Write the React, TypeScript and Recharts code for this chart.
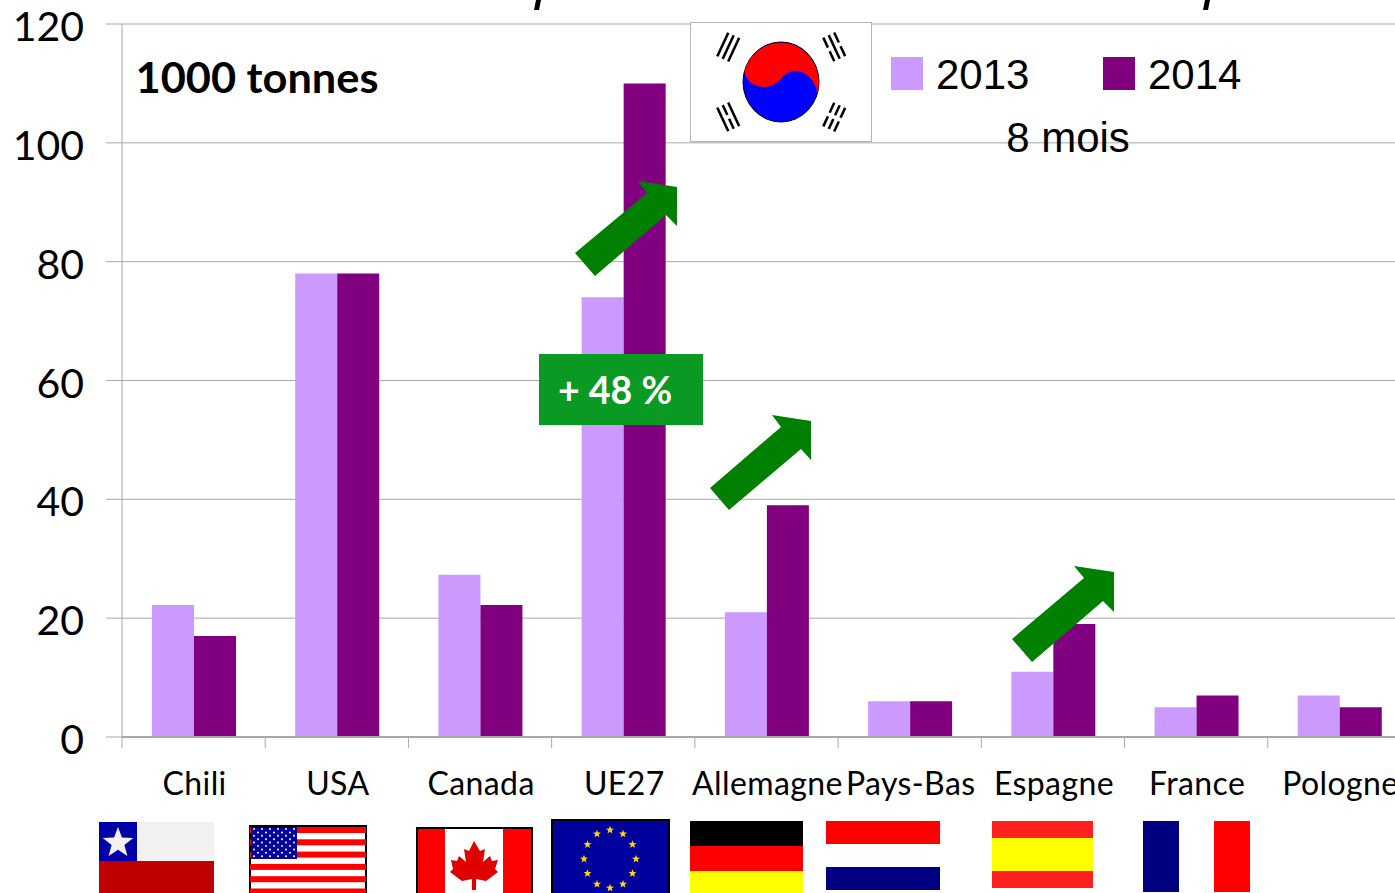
import React from "react";
import {
  Bar,
  BarChart,
  CartesianGrid,
  Legend,
  XAxis,
  YAxis,
} from "recharts";

const categories = [
  "Chili",
  "USA",
  "Canada",
  "UE27",
  "Allemagne",
  "Pays-Bas",
  "Espagne",
  "France",
  "Pologne",
];
const values2013 = [22.2, 78, 27.3, 74, 21, 6, 11, 5, 7];
const values2014 = [17, 78, 22.2, 110, 39, 6, 19, 7, 5];
const yTicks = [0, 20, 40, 60, 80, 100, 120];

const chartData = categories.map((name, i) => ({
  name,
  y2013: values2013[i],
  y2014: values2014[i],
}));

const LIGHT = "#CC99FF";
const DARK = "#800080";
const GRID = "#a8a8a8";
const ARROW = "#008000";
const PLOT_WIDTH = 1289;
const HALF_BAND = PLOT_WIDTH / categories.length / 2;

// tick mark sits on the band edge, label in the band centre
const CategoryTick = ({ x, y, payload }: any) => (
  <g>
    <line x1={x - HALF_BAND} x2={x - HALF_BAND} y1={y} y2={y + 11} stroke={GRID} />
    <text
      x={x + 1}
      y={y + 58}
      textAnchor="middle"
      fontFamily="Lato"
      fontSize={32}
      letterSpacing={0.4}
      fill="#000"
    >
      {payload.value}
    </text>
  </g>
);

const ValueTick = ({ x, y, payload }: any) => (
  <text
    x={x}
    y={y + 17}
    textAnchor="end"
    fontFamily="Lato"
    fontSize={41}
    fill="#000"
  >
    {payload.value}
  </text>
);

const LegendContent = ({ payload }: any) => (
  <div style={{ position: "relative", width: 360, height: 40 }}>
    {(payload || []).map((entry: any, i: number) => (
      <div key={entry.value} style={{ position: "absolute", left: i * 212, top: 0 }}>
        <div
          style={{
            position: "absolute",
            left: 0,
            top: 0,
            width: 32,
            height: 33,
            background: entry.color,
          }}
        />
        <div
          style={{
            position: "absolute",
            left: 45,
            top: -6,
            font: "42px 'Liberation Sans'",
            color: "#000",
          }}
        >
          {entry.value}
        </div>
      </div>
    ))}
  </div>
);

const Star = ({ cx, cy, r, fill }: { cx: number; cy: number; r: number; fill: string }) => {
  const pts = [];
  for (let i = 0; i < 10; i++) {
    const rad = i % 2 === 0 ? r : r * 0.42;
    const a = (Math.PI / 5) * i - Math.PI / 2;
    pts.push(`${cx + rad * Math.cos(a)},${cy + rad * Math.sin(a)}`);
  }
  return <polygon points={pts.join(" ")} fill={fill} />;
};

const Trigram = ({ cx, cy, angle, broken }: { cx: number; cy: number; angle: number; broken: boolean[] }) => (
  <g transform={`translate(${cx} ${cy}) rotate(${angle})`}>
    {broken.map((b, i) => (
      <g key={i}>
        <rect x={-7 + i * 6} y={-13} width={2.5} height={b ? 11 : 26} />
        {b && <rect x={-7 + i * 6} y={2} width={2.5} height={11} />}
      </g>
    ))}
  </g>
);

const KoreaFlag = () => (
  <g>
    <rect x={690.5} y={22.5} width={181} height={119} fill="#fff" stroke="#b5b5b5" />
    <ellipse cx={781} cy={82} rx={38} ry={40} fill="#0000ff" stroke="#000" strokeWidth={1} />
    <path
      d="M744.5 70.9 A38 40 0 0 1 817.5 93.1 C815 80 806 71 795 71 C781 71 781 87 764 87 C754 87 745 80 744.5 70.9Z"
      fill="#ff0000"
    />
    <Trigram cx={728} cy={47} angle={25} broken={[false, false, false]} />
    <Trigram cx={834} cy={47} angle={-25} broken={[true, false, true]} />
    <Trigram cx={728} cy={117} angle={-25} broken={[false, true, false]} />
    <Trigram cx={834} cy={117} angle={25} broken={[true, true, true]} />
  </g>
);

const UsaFlag = () => {
  const stripes = [];
  for (let i = 0; i < 6; i++) {
    stripes.push(<rect key={i} x={250} y={827 + i * 12.3} width={116} height={6} fill="#ff0000" />);
  }
  const dots = [];
  for (let r = 0; r < 9; r++) {
    for (let c = 0; c < (r % 2 === 0 ? 6 : 5); c++) {
      dots.push(
        <circle key={`${r}-${c}`} cx={254 + c * 8 + (r % 2 === 0 ? 0 : 4)} cy={829 + r * 3.4} r={1} fill="#fff" />
      );
    }
  }
  return (
    <g>
      <rect x={250} y={826} width={116} height={70} fill="#fff" stroke="#000" strokeWidth={2} />
      {stripes}
      <rect x={251} y={827} width={46} height={32} fill="#00009c" />
      {dots}
    </g>
  );
};

const EuFlag = () => {
  const stars = [];
  for (let i = 0; i < 12; i++) {
    const a = (Math.PI / 6) * i;
    stars.push(<Star key={i} cx={610 + 26 * Math.sin(a)} cy={859 - 29 * Math.cos(a)} r={4.2} fill="#ffd800" />);
  }
  return (
    <g>
      <rect x={552} y={820} width={117} height={75} fill="#00009c" stroke="#000" strokeWidth={2} />
      {stars}
    </g>
  );
};

const CanadaFlag = () => (
  <g>
    <rect x={417} y={828} width={115} height={70} fill="#fff" stroke="#000" strokeWidth={2} />
    <rect x={418} y={829} width={27} height={66} fill="#ff0000" />
    <rect x={503} y={829} width={28} height={66} fill="#ff0000" />
    <polygon
      fill="#e00000"
      points="474,841 480,851 485,849 483,862 490,856 492,861 498,860 495,869 498,872 486,881 476,879 476,890 472,890 472,879 462,881 450,872 453,869 451,860 457,861 459,856 466,862 464,849 469,851"
    />
  </g>
);

const FlagRow = () => (
  <g>
    {/* Chili */}
    <rect x={99} y={822} width={115} height={39} fill="#f2f2f2" />
    <rect x={99} y={861} width={115} height={32} fill="#c00000" />
    <rect x={99} y={822} width={38} height={39} fill="#0000a8" />
    <Star cx={118} cy={843} r={16} fill="#f2f2f2" />
    <UsaFlag />
    <CanadaFlag />
    <EuFlag />
    {/* Allemagne */}
    <rect x={690} y={821} width={113} height={25} fill="#000" />
    <rect x={690} y={846} width={113} height={25} fill="#ff0000" />
    <rect x={690} y={871} width={113} height={22} fill="#ffff00" />
    {/* Pays-Bas */}
    <rect x={826} y={821} width={114} height={23} fill="#ff0000" />
    <rect x={826} y={867} width={114} height={23} fill="#000080" />
    {/* Espagne */}
    <rect x={992} y={821} width={101} height={67} fill="#ff2020" />
    <rect x={992} y={838} width={101} height={33} fill="#ffff00" />
    {/* France */}
    <rect x={1143} y={821} width={36} height={71} fill="#000080" />
    <rect x={1214} y={821} width={36} height={71} fill="#ff0000" />
  </g>
);

const arrowShapes = [
  "575,253 647,193 638,181 677,187 677,226 666,215 595,276",
  "710,488 781,427 772,415 811,421 811,460 801,449 729,510",
  "1012,639 1084,578 1074,566 1114,572 1114,612 1103,601 1032,662",
];

// what is left of the cropped title above the page edge
const titleRemnants = ["536,0 541,0 539,10 534,10", "1205,0 1210,0 1208,10 1203,10"];

const Annotations = () => (
  <svg
    width={1395}
    height={893}
    style={{ position: "absolute", left: 0, top: 0, pointerEvents: "none" }}
  >
    {titleRemnants.map((p) => (
      <polygon key={p} points={p} fill="#000" />
    ))}
    <text
      x={135.5}
      y={92.5}
      fontFamily="Lato"
      fontWeight={700}
      fontSize={42}
      textLength={243}
      lengthAdjust="spacingAndGlyphs"
      fill="#000"
    >
      1000 tonnes
    </text>
    <KoreaFlag />
    <text x={1068} y={152} textAnchor="middle" fontFamily="Liberation Sans" fontSize={42} fill="#000">
      8 mois
    </text>
    {arrowShapes.map((p) => (
      <polygon key={p} points={p} fill={ARROW} />
    ))}
    <rect x={539} y={354} width={164} height={71} fill="#0A9A24" />
    <text x={558} y={404} fontFamily="Lato" fontWeight={700} fontSize={37.5} fill="#fff">
      + 48 %
    </text>
    <FlagRow />
  </svg>
);

const App = () => (
  <div
    style={{
      position: "absolute",
      left: 0,
      top: 0,
      width: 1395,
      height: 893,
      overflow: "hidden",
      background: "#fff",
    }}
  >
    <BarChart
      width={1411}
      height={893}
      data={chartData}
      margin={{ top: 24, right: 0, bottom: 0, left: 0 }}
      barSize={42}
      barGap={0}
    >
      <CartesianGrid vertical={false} stroke={GRID} />
      <XAxis
        dataKey="name"
        height={156}
        interval={0}
        axisLine={{ stroke: GRID, strokeWidth: 2 }}
        tickLine={false}
        tickSize={0}
        tickMargin={0}
        tick={<CategoryTick />}
      />
      <YAxis
        width={122}
        domain={[0, 120]}
        ticks={yTicks}
        interval={0}
        axisLine={{ stroke: GRID }}
        tickLine={{ stroke: GRID }}
        tickSize={16}
        tickMargin={22}
        tick={<ValueTick />}
      />
      <Legend
        layout="horizontal"
        verticalAlign="middle"
        wrapperStyle={{ left: 891, top: 57, width: 360 }}
        content={<LegendContent />}
      />
      <Bar dataKey="y2013" name="2013" fill={LIGHT} isAnimationActive={false} />
      <Bar dataKey="y2014" name="2014" fill={DARK} isAnimationActive={false} />
    </BarChart>
    <Annotations />
  </div>
);

export default App;
